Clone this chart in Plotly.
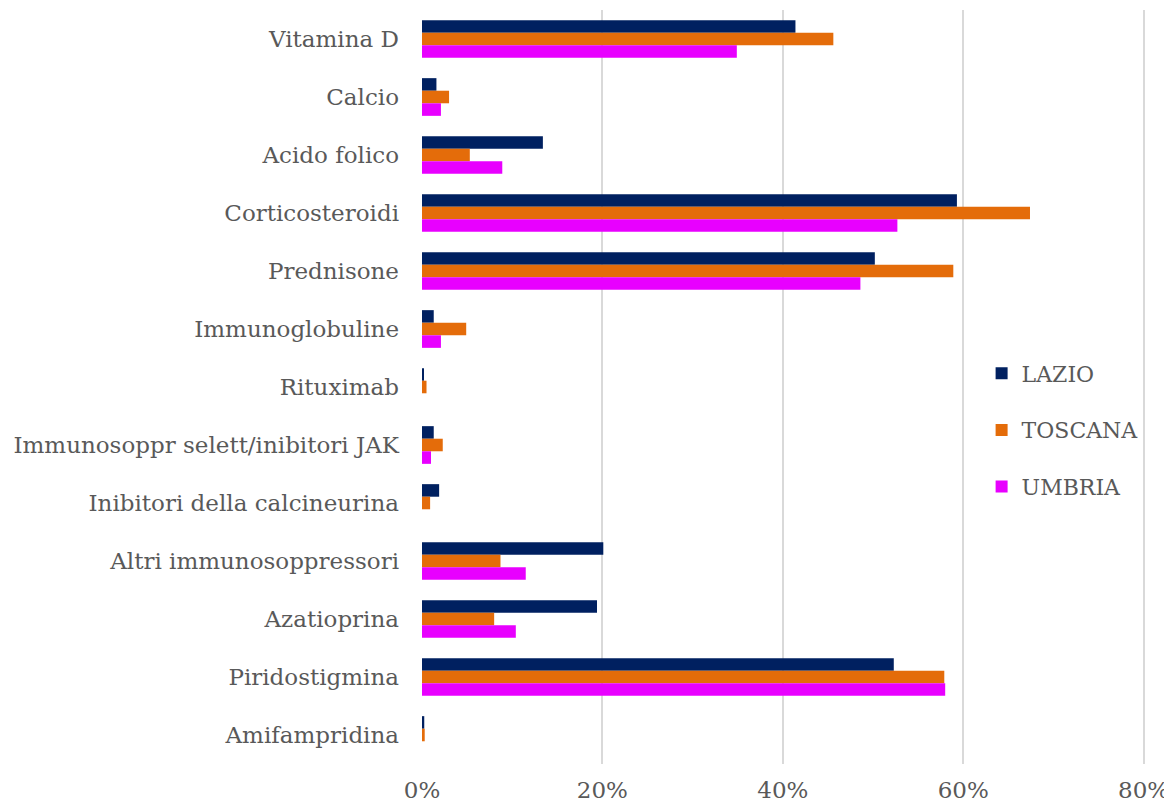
import plotly.graph_objects as go

categories = ["Vitamina D", "Calcio", "Acido folico", "Corticosteroidi", "Prednisone",
              "Immunoglobuline", "Rituximab", "Immunosoppr selett/inibitori JAK",
              "Inibitori della calcineurina", "Altri immunosoppressori", "Azatioprina",
              "Piridostigmina", "Amifampridina"]
lazio =   [41.4, 1.6, 13.4, 59.3, 50.2, 1.3, 0.2, 1.3, 1.9, 20.1, 19.4, 52.3, 0.25]
toscana = [45.6, 3.0, 5.3, 67.4, 58.9, 4.9, 0.5, 2.3, 0.9, 8.7, 8.0, 57.9, 0.3]
umbria =  [34.9, 2.1, 8.9, 52.7, 48.6, 2.1, 0.0, 1.0, 0.0, 11.5, 10.4, 58.0, 0.0]
series = [("LAZIO", lazio, "#002060"), ("TOSCANA", toscana, "#E46C0A"), ("UMBRIA", umbria, "#E800FF")]
x_ticks = [0, 20, 40, 60, 80]
x_tick_labels = ["0%", "20%", "40%", "60%", "80%"]

FONT = "DejaVu Serif"
fig = go.Figure()
for name, vals, col in series:
    fig.add_trace(go.Bar(y=categories, x=vals, name=name, orientation="h",
                         marker=dict(color=col, line=dict(width=0)), legendgroup=name))

fig.update_layout(
    width=1164, height=798,
    margin=dict(l=414, r=27, t=2, b=42, autoexpand=False),
    barmode="group", bargap=0.35, bargroupgap=0,
    plot_bgcolor="white", paper_bgcolor="white",
    font=dict(family=FONT, color="#595959", size=22),
    legend=dict(x=0.774, y=0.443, xanchor="left", yanchor="middle", bgcolor="rgba(0,0,0,0)",
                font=dict(family=FONT, size=22, color="#595959"), tracegroupgap=25,
                itemwidth=30),
    showlegend=True,
)
fig.update_xaxes(range=[0, 80.15], tickvals=x_ticks, ticktext=x_tick_labels, automargin=False,
                 showgrid=True, gridcolor="#D9D9D9", gridwidth=1.5, zeroline=False,
                 showline=False, ticks="", ticklabelstandoff=10,
                 tickfont=dict(size=23, family=FONT, color="#595959"))
fig.update_yaxes(autorange="reversed", showgrid=False, ticks="", showline=False, automargin=False,
                 ticklabelstandoff=22, tickfont=dict(size=23, family=FONT, color="#595959"))
fig.write_html("out.html")
